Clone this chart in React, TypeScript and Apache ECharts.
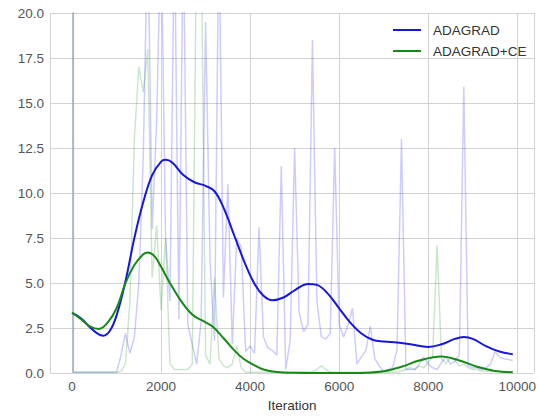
import React, { useEffect, useRef } from "react";
import * as echarts from "echarts";

// raw (unsmoothed) loss values: iteration 0, 30, then one every 100 iterations (100 .. 9900)
const rawIter = [0, 30];
for (let it = 100; it <= 9900; it += 100) rawIter.push(it);

const adagradRaw = [
  1000, 0.05, 0.05, 0.05, 0.05, 0.05, 0.05, 0.05, 0.05, 0.05, 0.05,
  0.05, 1.0, 2.2, 1.1, 2.0, 5, 12, 25, 8, 14,
  25, 7.6, 4.0, 25, 3.0, 25, 2.7, 1.6, 0.5, 2.9,
  19.5, 6.2, 1.8, 25, 4.2, 10.5, 1.6, 7.5, 7.0, 1.2,
  1.5, 1.1, 8.1, 2.0, 1.4, 1.25, 1.0, 11.5, 0.2, 1.8,
  12.5, 3.4, 2.3, 2.7, 18.5, 4.0, 2.0, 1.9, 2.2, 12.5,
  2.7, 2.0, 2.7, 3.6, 0.5, 0.9, 1.25, 2.6, 0.8, 0.4,
  0.1, 0.2, 0.3, 1.3, 13.0, 0.2, 0.2, 0.2, 0.5, 0.9,
  0.5, 0.3, 0.2, 0.6, 0.9, 0.5, 0.65, 1.0, 15.9, 0.4,
  0.3, 0.3, 0.2, 0.3, 0.5, 1.2, 0.9, 0.8, 0.75, 0.7,
];

const adagradCeRaw = [
  1000, 0.05, 0.05, 0.05, 0.05, 0.05, 0.05, 0.05, 0.05, 0.05, 0.05,
  0.05, 0.1, 0.5, 4, 13, 17.0, 15.6, 18.0, 5.3, 8.2,
  3.5, 7.5, 0.5, 0.2, 0.2, 0.2, 0.2, 0.5, 25, 25,
  1.0, 0.5, 5.3, 0.8, 0.4, 0.3, 0.5, 1.5, 0.3, 0.05,
  0.05, 0.05, 0.05, 0.05, 0.05, 0.05, 0.05, 0.05, 0.05, 0.05,
  0.05, 0.05, 0.05, 0.05, 0.05, 0.2, 0.4, 0.2, 0.05, 0.05,
  0.05, 0.05, 0.05, 0.05, 0.05, 0.05, 0.05, 0.05, 0.05, 0.05,
  0.05, 0.05, 0.05, 0.05, 0.1, 0.2, 0.3, 0.2, 0.4, 0.3,
  0.6, 0.9, 7.1, 0.8, 0.5, 0.9, 0.7, 0.4, 0.5, 0.3,
  0.2, 0.2, 0.1, 0.1, 0.1, 0.1, 0.1, 0.05, 0.05, 0.05,
];

// smoothed curves
const adagradSmoothIter = [
  0, 200, 400, 600, 700, 850, 1000, 1200, 1400, 1600, 1800, 2000, 2100, 2250,
  2500, 2750, 3000, 3200, 3400, 3650, 3900, 4100, 4300, 4500, 4750, 5000, 5300,
  5500, 5750, 6000, 6250, 6500, 6750, 7000, 7300, 7600, 8000, 8300, 8600, 8800,
  9000, 9300, 9600, 9900,
];
const adagradSmooth = [
  3.35, 3.05, 2.55, 2.15, 2.08, 2.35, 3.2, 5.1, 7.5, 9.5, 11.0, 11.75, 11.85, 11.7,
  11.0, 10.6, 10.4, 10.1, 9.2, 7.6, 6.0, 4.95, 4.3, 4.05, 4.2, 4.6, 4.95,
  4.9, 4.4, 3.6, 2.8, 2.2, 1.85, 1.75, 1.7, 1.6, 1.45, 1.6, 1.9, 2.0,
  1.9, 1.5, 1.2, 1.05,
];

const adagradCeSmoothIter = [
  0, 200, 400, 600, 800, 1000, 1200, 1400, 1600, 1700, 1850, 2000, 2200, 2450,
  2700, 2900, 3150, 3400, 3650, 3850, 4050, 4300, 4600, 5000, 6000, 6600, 7000,
  7400, 7800, 8300, 8700, 9100, 9500, 9900,
];
const adagradCeSmooth = [
  3.35, 3.0, 2.6, 2.45, 2.8, 3.6, 5.0, 6.0, 6.6, 6.7, 6.5, 5.9, 5.0, 4.0,
  3.25, 2.95, 2.6, 1.95, 1.25, 0.8, 0.5, 0.2, 0.06, 0.02, 0.0, 0.02, 0.1,
  0.35, 0.7, 0.92, 0.7, 0.35, 0.12, 0.05,
];

const X_TICK_STEP = 2000;
const FONT = "'Liberation Sans', Arial, sans-serif";

export default function App() {
  const ref = useRef<HTMLDivElement>(null);
  useEffect(() => {
    if (!ref.current) return;
    const chart = echarts.init(ref.current, null, { renderer: "svg" });
    const pairs = (xs: number[], ys: number[]) => xs.map((x, i) => [x, ys[i]]);
    chart.setOption({
      animation: false,
      backgroundColor: "#ffffff",
      textStyle: { fontFamily: FONT },
      grid: { left: 50, top: 13, right: 0, bottom: 37, containLabel: false },
      legend: {
        orient: "vertical",
        left: 393,
        top: 23,
        padding: 0,
        itemWidth: 28,
        itemHeight: 2,
        itemGap: 7,
        icon: "rect",
        data: ["ADAGRAD", "ADAGRAD+CE"],
        textStyle: { fontSize: 13.5, lineHeight: 14, color: "#333", fontFamily: FONT, padding: [0, 0, 0, 7] },
      },
      xAxis: {
        type: "value",
        min: -495,
        max: 10378,
        splitNumber: 5,
        name: "Iteration",
        nameLocation: "middle",
        nameGap: 23,
        nameTextStyle: { fontSize: 13.5, color: "#333", fontFamily: FONT },
        axisLine: { show: false },
        axisTick: { show: false },
        axisLabel: {
          fontSize: 13.5,
          color: "#555",
          fontFamily: FONT,
          margin: 6,
          formatter: (v: number) => (v % X_TICK_STEP === 0 ? String(v) : ""),
        },
        splitLine: { show: true, lineStyle: { color: "#d3d3d3", width: 1 } },
      },
      yAxis: {
        type: "value",
        min: 0,
        max: 20,
        interval: 2.5,
        axisLine: { show: false },
        axisTick: { show: false },
        axisLabel: {
          fontSize: 13.5,
          color: "#555",
          fontFamily: FONT,
          margin: 6,
          formatter: (v: number) => v.toFixed(1),
        },
        splitLine: { show: true, lineStyle: { color: "#d3d3d3", width: 1 } },
      },
      series: [
        {
          name: "ADAGRAD raw",
          type: "line",
          data: pairs(rawIter, adagradRaw),
          symbol: "none",
          lineStyle: { color: "rgba(0,0,255,0.2)", width: 1.5 },
          itemStyle: { color: "rgba(0,0,255,0.2)" },
          silent: true,
        },
        {
          name: "ADAGRAD+CE raw",
          type: "line",
          data: pairs(rawIter, adagradCeRaw),
          symbol: "none",
          lineStyle: { color: "rgba(0,128,0,0.2)", width: 1.5 },
          itemStyle: { color: "rgba(0,128,0,0.2)" },
          silent: true,
        },
        {
          name: "ADAGRAD",
          type: "line",
          data: pairs(adagradSmoothIter, adagradSmooth),
          symbol: "none",
          smooth: 0.4,
          lineStyle: { color: "#1616e0", width: 2 },
          itemStyle: { color: "#1616e0" },
        },
        {
          name: "ADAGRAD+CE",
          type: "line",
          data: pairs(adagradCeSmoothIter, adagradCeSmooth),
          symbol: "none",
          smooth: 0.4,
          lineStyle: { color: "#168a16", width: 2 },
          itemStyle: { color: "#168a16" },
        },
      ],
    });
    return () => chart.dispose();
  }, []);
  return <div ref={ref} style={{ width: 539, height: 417, position: "absolute", left: 0, top: 0 }} />;
}
